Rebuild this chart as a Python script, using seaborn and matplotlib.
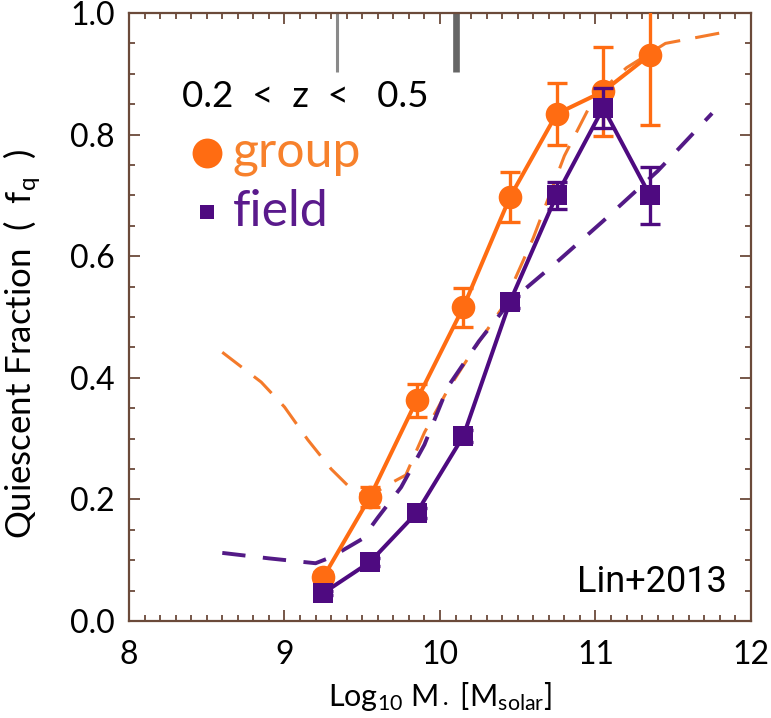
import matplotlib
matplotlib.use("Agg")
import matplotlib.pyplot as plt
import seaborn as sns
import pandas as pd
from matplotlib.ticker import MultipleLocator

# Stellar-mass bins and quiescent fractions
mass_bins = [9.25, 9.55, 9.85, 10.15, 10.45, 10.75, 11.05, 11.35]
fq_group = [0.072, 0.204, 0.363, 0.516, 0.697, 0.834, 0.871, 0.931]
err_group = [0.008, 0.016, 0.027, 0.032, 0.041, 0.051, 0.073, 0.115]
fq_field = [0.046, 0.097, 0.178, 0.304, 0.525, 0.700, 0.844, 0.700]
err_field = [0.004, 0.006, 0.008, 0.010, 0.010, 0.022, 0.033, 0.047]

# Comparison curves (dashed)
mass_ref_group = [8.6, 8.85, 9.0, 9.15, 9.3, 9.45, 9.55, 9.65, 9.78, 9.9,
                  10.05, 10.2, 10.4, 10.6, 10.8, 10.95, 11.05, 11.2, 11.45, 11.8]
fq_ref_group = [0.442, 0.393, 0.352, 0.298, 0.25, 0.212, 0.205, 0.222, 0.24, 0.31,
                0.38, 0.44, 0.515, 0.63, 0.765, 0.84, 0.875, 0.91, 0.95, 0.967]
mass_ref_field = [8.6, 8.9, 9.2, 9.3, 9.4, 9.5, 9.6, 9.75, 9.9, 10.05,
                  10.25, 10.45, 10.75, 11.05, 11.4, 11.75]
fq_ref_field = [0.112, 0.103, 0.095, 0.105, 0.12, 0.135, 0.17, 0.22, 0.29, 0.385,
                0.46, 0.525, 0.59, 0.658, 0.74, 0.835]

# Mass-completeness limits marked at the top axis
mass_limits = [9.34, 10.10]

ORANGE = "#ff6c12"
PURPLE = "#4e0a80"
SPINE = "#6b4a3a"

sns.set_theme(style="ticks")
plt.rcParams["font.family"] = ["Lato", "DejaVu Sans"]
plt.rcParams["mathtext.fontset"] = "custom"
plt.rcParams["mathtext.rm"] = "Lato"
plt.rcParams["mathtext.it"] = "Lato:italic"
plt.rcParams["mathtext.sf"] = "Lato"
plt.rcParams["text.color"] = "black"
plt.rcParams["axes.labelcolor"] = "black"

fig = plt.figure(figsize=(7.71, 7.18), dpi=100)
ax = fig.add_axes([0.1673, 0.1351, 0.8067, 0.8468])

df = pd.DataFrame({
    "mass": mass_bins * 2,
    "fq": fq_group + fq_field,
    "sample": ["group"] * len(mass_bins) + ["field"] * len(mass_bins),
})
ref_g = pd.DataFrame({"mass": mass_ref_group, "fq": fq_ref_group})
ref_f = pd.DataFrame({"mass": mass_ref_field, "fq": fq_ref_field})

# dashed comparison curves
sns.lineplot(data=ref_g, x="mass", y="fq", ax=ax, color="#f47a2a", lw=2.2,
             sort=False, zorder=2).lines[-1].set_dashes((8, 5))
sns.lineplot(data=ref_f, x="mass", y="fq", ax=ax, color="#531a86", lw=2.8,
             sort=False, zorder=2).lines[-1].set_dashes((6, 4.5))

# group sample
sns.lineplot(data=df[df["sample"] == "group"], x="mass", y="fq", ax=ax,
             color=ORANGE, lw=2.9, marker="o", markersize=17, markeredgewidth=0,
             sort=False, zorder=3)
ax.errorbar(mass_bins, fq_group, yerr=err_group, fmt="none", ecolor=ORANGE,
            elinewidth=2.4, capsize=7, capthick=2.4, zorder=3)

# field sample
sns.lineplot(data=df[df["sample"] == "field"], x="mass", y="fq", ax=ax,
             color=PURPLE, lw=2.9, marker="s", markersize=14, markeredgewidth=0,
             sort=False, zorder=4)
ax.errorbar(mass_bins, fq_field, yerr=err_field, fmt="none", ecolor=PURPLE,
            elinewidth=2.4, capsize=7, capthick=2.4, zorder=4)

# completeness limits
ax.vlines(mass_limits[0], 0.903, 1.0, color="#8a8a8a", lw=2.2, zorder=1)
ax.vlines(mass_limits[1], 0.903, 1.0, color="#666666", lw=4.8, zorder=1)

ax.set_xlim(8, 12)
ax.set_ylim(0, 1.0)
ax.xaxis.set_major_locator(MultipleLocator(1))
ax.xaxis.set_minor_locator(MultipleLocator(0.1))
ax.yaxis.set_major_locator(MultipleLocator(0.2))
ax.yaxis.set_minor_locator(MultipleLocator(0.05))
ax.xaxis.set_major_formatter(plt.FuncFormatter(lambda v, p: f"{v:.0f}"))
ax.yaxis.set_major_formatter(plt.FuncFormatter(lambda v, p: f"{v:.1f}"))

for s in ax.spines.values():
    s.set_color(SPINE)
    s.set_linewidth(1.6)
ax.tick_params(which="both", direction="in", top=True, right=True,
               color=SPINE, width=1.3, labelsize=23, labelcolor="black")
ax.tick_params(which="major", length=8)
ax.tick_params(which="minor", length=4)
ax.tick_params(axis="x", pad=14)
ax.tick_params(axis="y", pad=10)

ax.set_xlabel(r"Log$_{10}$ M$_\bullet$ [M$_{\rm solar}$]", fontsize=22, labelpad=7)
ax.set_ylabel(r"Quiescent Fraction  (  f$_{\rm q}$  )", fontsize=25)
ax.yaxis.set_label_coords(-0.138, 0.455)

# text annotations and key
ax.text(0.085, 0.862, "0.2  <  z  <   0.5", transform=ax.transAxes,
        fontsize=26.5, va="center", ha="left", color="black")
ax.plot([0.126], [0.769], transform=ax.transAxes, marker="o", markersize=21.5,
        color=ORANGE, markeredgewidth=0, clip_on=False)
ax.text(0.167, 0.769, "group", transform=ax.transAxes, fontsize=36,
        va="center", ha="left", color="#f7812c")
ax.plot([0.126], [0.672], transform=ax.transAxes, marker="s", markersize=9.5,
        color=PURPLE, markeredgewidth=0, clip_on=False)
ax.text(0.167, 0.672, "field", transform=ax.transAxes, fontsize=36,
        va="center", ha="left", color="#5a1a8c")
ax.text(0.961, 0.048, "Lin+2013", transform=ax.transAxes, fontsize=26,
        ha="right", va="baseline", color="black", family="Roboto")

fig.savefig("out.png", dpi=100)
